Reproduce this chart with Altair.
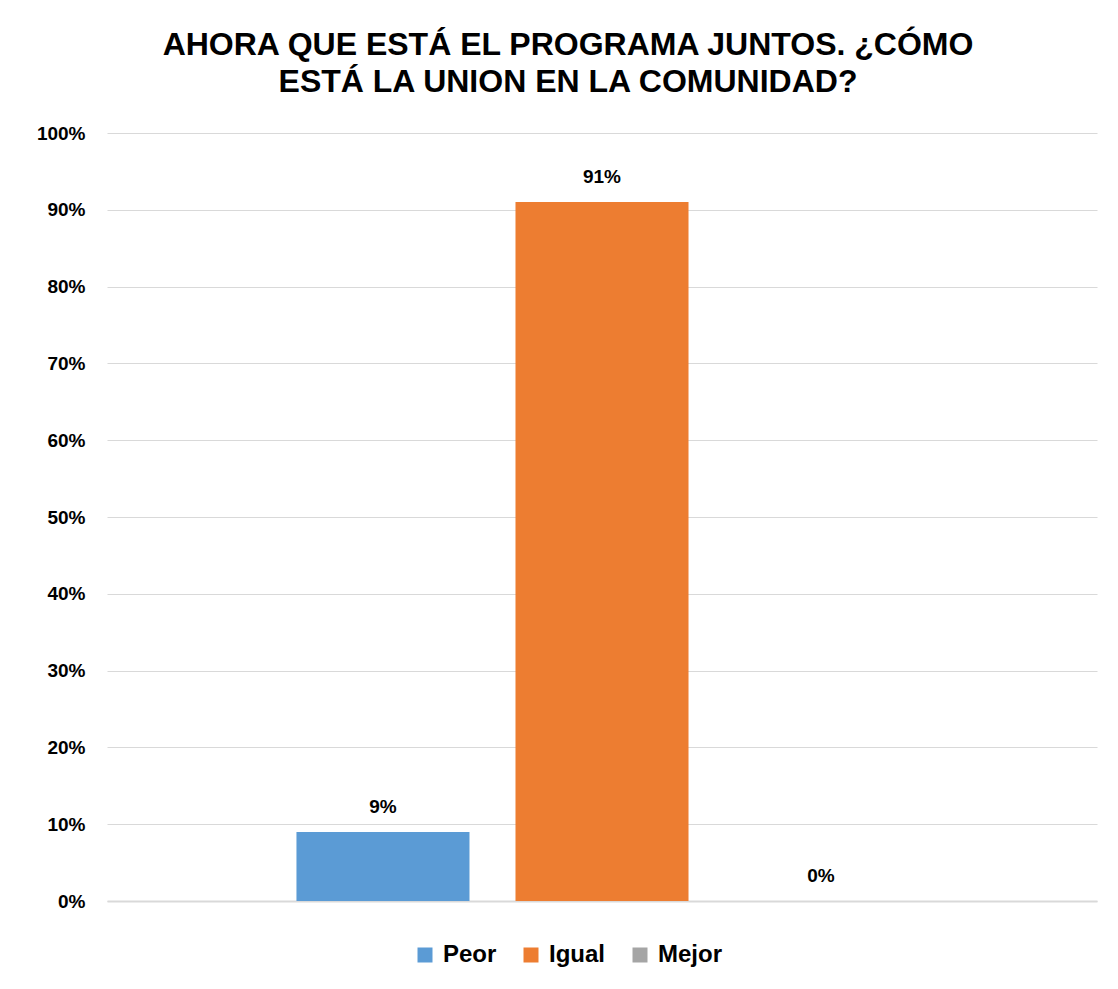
import altair as alt
import pandas as pd

categories = ["Peor", "Igual", "Mejor"]
values = [0.09, 0.91, 0.0]
colors = ["#5B9BD5", "#ED7D31", "#A5A5A5"]
title_lines = ["AHORA QUE ESTÁ EL PROGRAMA JUNTOS. ¿CÓMO", "ESTÁ LA UNION EN LA COMUNIDAD?"]

df = pd.DataFrame({"cat": categories, "val": values})
FONT = "Liberation Sans"

x = alt.X("cat:N", sort=categories,
          scale=alt.Scale(paddingInner=0.21, paddingOuter=0.865),
          axis=alt.Axis(labels=False, ticks=False, title=None, domainColor="#D9D9D9",
                        domainWidth=2, grid=False))
y = alt.Y("val:Q", scale=alt.Scale(domain=[0, 1]),
          axis=alt.Axis(format=".0%", values=[i / 10 for i in range(11)], title=None,
                        domain=False, ticks=False, gridColor="#D9D9D9", gridWidth=1,
                        labelFont=FONT, labelFontSize=19, labelFontWeight="bold",
                        labelColor="#000000", labelPadding=22))

bars = alt.Chart(df).mark_bar().encode(
    x=x, y=y,
    color=alt.Color("cat:N", sort=categories,
                    scale=alt.Scale(domain=categories, range=colors),
                    legend=alt.Legend(title=None, orient="none", direction="horizontal",
                                      legendX=306, legendY=810,
                                      symbolType="square", symbolSize=225,
                                      symbolStrokeWidth=0, labelFont=FONT,
                                      labelFontSize=24, labelFontWeight="bold",
                                      labelColor="#000000", labelOffset=6,
                                      columnPadding=22))
)

labels = alt.Chart(df).mark_text(dy=-15, font=FONT, fontSize=19, fontWeight="bold",
                                 color="#000000", baseline="bottom").encode(
    x=alt.X("cat:N", sort=categories), y="val:Q", text=alt.Text("val:Q", format=".0%")
)

chart = (bars + labels).properties(
    width=990, height=768,
    background="#FFFFFF",
    title=alt.TitleParams(text=title_lines, font=FONT, fontSize=32, fontWeight="bold",
                          color="#000000", anchor="middle", lineHeight=37, offset=25,
                          dx=-34),
    autosize=alt.AutoSizeParams(type="none"),
    padding={"left": 99, "top": 125, "right": 10, "bottom": 75},
).configure_view(strokeWidth=0, stroke="transparent")

chart.save("out.html", embed_options={"renderer": "svg", "actions": False})
